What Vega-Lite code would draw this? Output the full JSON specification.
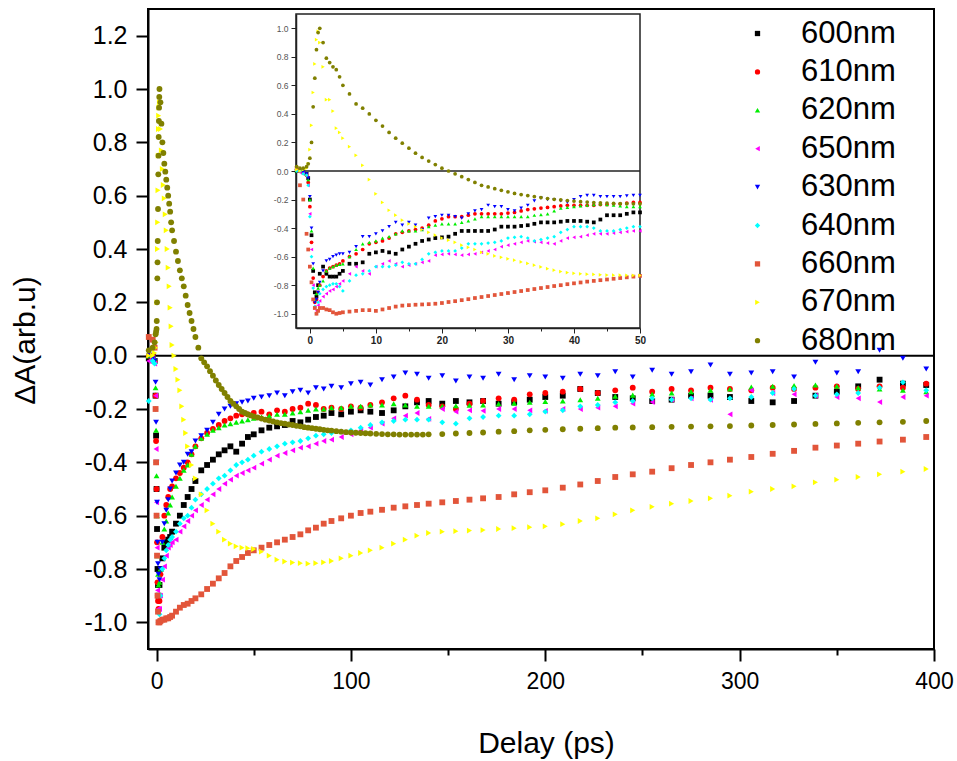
{
"$schema":"https://vega.github.io/schema/vega-lite/v6.json",
"width":786,"height":640,"autosize":"none",
"padding":{"left":148,"top":9,"right":23,"bottom":112},
"background":"white",
"config":{"view":{"stroke":"black","strokeWidth":2},"font":"Liberation Sans"},
"datasets":{
"main":[
{"s":"600nm","t":-4,"v":-0.01},{"s":"600nm","t":-2,"v":0},{"s":"600nm","t":-1,"v":-0.02},{"s":"600nm","t":-0.5,"v":-0.15},{"s":"600nm","t":-0.25,"v":-0.3},{"s":"600nm","t":0,"v":-0.5},{"s":"600nm","t":0.25,"v":-0.65},{"s":"600nm","t":0.5,"v":-0.8},{"s":"600nm","t":0.75,"v":-0.86},{"s":"600nm","t":1,"v":-0.9},{"s":"600nm","t":1.5,"v":-0.86},{"s":"600nm","t":2,"v":-0.8},{"s":"600nm","t":3,"v":-0.76},{"s":"600nm","t":4,"v":-0.72},{"s":"600nm","t":5,"v":-0.7},{"s":"600nm","t":6,"v":-0.69},{"s":"600nm","t":7,"v":-0.68},{"s":"600nm","t":8,"v":-0.66},{"s":"600nm","t":10,"v":-0.63},{"s":"600nm","t":12,"v":-0.6},{"s":"600nm","t":14,"v":-0.56},{"s":"600nm","t":16,"v":-0.53},{"s":"600nm","t":18,"v":-0.5},{"s":"600nm","t":20,"v":-0.47},{"s":"600nm","t":23,"v":-0.43},{"s":"600nm","t":26,"v":-0.41},{"s":"600nm","t":29,"v":-0.39},{"s":"600nm","t":32,"v":-0.37},{"s":"600nm","t":35,"v":-0.355},{"s":"600nm","t":38,"v":-0.34},{"s":"600nm","t":41,"v":-0.36},{"s":"600nm","t":44,"v":-0.33},{"s":"600nm","t":47,"v":-0.305},{"s":"600nm","t":50,"v":-0.295},{"s":"600nm","t":54,"v":-0.28},{"s":"600nm","t":58,"v":-0.27},{"s":"600nm","t":62,"v":-0.265},{"s":"600nm","t":66,"v":-0.26},{"s":"600nm","t":70,"v":-0.245},{"s":"600nm","t":74,"v":-0.25},{"s":"600nm","t":78,"v":-0.24},{"s":"600nm","t":82,"v":-0.23},{"s":"600nm","t":86,"v":-0.225},{"s":"600nm","t":90,"v":-0.215},{"s":"600nm","t":95,"v":-0.22},{"s":"600nm","t":100,"v":-0.21},{"s":"600nm","t":105,"v":-0.205},{"s":"600nm","t":110,"v":-0.21},{"s":"600nm","t":116,"v":-0.215},{"s":"600nm","t":122,"v":-0.205},{"s":"600nm","t":128,"v":-0.19},{"s":"600nm","t":134,"v":-0.175},{"s":"600nm","t":140,"v":-0.17},{"s":"600nm","t":147,"v":-0.18},{"s":"600nm","t":154,"v":-0.17},{"s":"600nm","t":161,"v":-0.175},{"s":"600nm","t":168,"v":-0.17},{"s":"600nm","t":176,"v":-0.18},{"s":"600nm","t":184,"v":-0.175},{"s":"600nm","t":192,"v":-0.165},{"s":"600nm","t":200,"v":-0.155},{"s":"600nm","t":209,"v":-0.15},{"s":"600nm","t":218,"v":-0.125},{"s":"600nm","t":227,"v":-0.14},{"s":"600nm","t":236,"v":-0.155},{"s":"600nm","t":245,"v":-0.16},{"s":"600nm","t":255,"v":-0.17},{"s":"600nm","t":265,"v":-0.165},{"s":"600nm","t":275,"v":-0.15},{"s":"600nm","t":285,"v":-0.15},{"s":"600nm","t":295,"v":-0.155},{"s":"600nm","t":306,"v":-0.17},{"s":"600nm","t":317,"v":-0.175},{"s":"600nm","t":328,"v":-0.17},{"s":"600nm","t":339,"v":-0.15},{"s":"600nm","t":350,"v":-0.135},{"s":"600nm","t":361,"v":-0.115},{"s":"600nm","t":372,"v":-0.09},{"s":"600nm","t":384,"v":-0.105},{"s":"600nm","t":396,"v":-0.11},
{"s":"610nm","t":-4,"v":0},{"s":"610nm","t":-2,"v":0},{"s":"610nm","t":-1,"v":-0.02},{"s":"610nm","t":-0.5,"v":-0.15},{"s":"610nm","t":-0.25,"v":-0.32},{"s":"610nm","t":0,"v":-0.5},{"s":"610nm","t":0.25,"v":-0.7},{"s":"610nm","t":0.5,"v":-0.85},{"s":"610nm","t":0.75,"v":-0.92},{"s":"610nm","t":1,"v":-0.95},{"s":"610nm","t":1.5,"v":-0.92},{"s":"610nm","t":2,"v":-0.82},{"s":"610nm","t":3,"v":-0.68},{"s":"610nm","t":4,"v":-0.6},{"s":"610nm","t":5,"v":-0.56},{"s":"610nm","t":6,"v":-0.53},{"s":"610nm","t":7,"v":-0.5},{"s":"610nm","t":8,"v":-0.49},{"s":"610nm","t":10,"v":-0.46},{"s":"610nm","t":12,"v":-0.44},{"s":"610nm","t":14,"v":-0.42},{"s":"610nm","t":16,"v":-0.4},{"s":"610nm","t":18,"v":-0.37},{"s":"610nm","t":20,"v":-0.34},{"s":"610nm","t":23,"v":-0.31},{"s":"610nm","t":26,"v":-0.29},{"s":"610nm","t":29,"v":-0.275},{"s":"610nm","t":32,"v":-0.26},{"s":"610nm","t":35,"v":-0.245},{"s":"610nm","t":38,"v":-0.235},{"s":"610nm","t":41,"v":-0.225},{"s":"610nm","t":44,"v":-0.22},{"s":"610nm","t":47,"v":-0.22},{"s":"610nm","t":50,"v":-0.215},{"s":"610nm","t":54,"v":-0.21},{"s":"610nm","t":58,"v":-0.22},{"s":"610nm","t":62,"v":-0.205},{"s":"610nm","t":66,"v":-0.21},{"s":"610nm","t":70,"v":-0.2},{"s":"610nm","t":74,"v":-0.195},{"s":"610nm","t":78,"v":-0.18},{"s":"610nm","t":82,"v":-0.185},{"s":"610nm","t":86,"v":-0.2},{"s":"610nm","t":90,"v":-0.195},{"s":"610nm","t":95,"v":-0.2},{"s":"610nm","t":100,"v":-0.19},{"s":"610nm","t":105,"v":-0.195},{"s":"610nm","t":110,"v":-0.185},{"s":"610nm","t":116,"v":-0.175},{"s":"610nm","t":122,"v":-0.16},{"s":"610nm","t":128,"v":-0.15},{"s":"610nm","t":134,"v":-0.165},{"s":"610nm","t":140,"v":-0.185},{"s":"610nm","t":147,"v":-0.19},{"s":"610nm","t":154,"v":-0.2},{"s":"610nm","t":161,"v":-0.18},{"s":"610nm","t":168,"v":-0.17},{"s":"610nm","t":176,"v":-0.16},{"s":"610nm","t":184,"v":-0.165},{"s":"610nm","t":192,"v":-0.145},{"s":"610nm","t":200,"v":-0.14},{"s":"610nm","t":209,"v":-0.135},{"s":"610nm","t":218,"v":-0.125},{"s":"610nm","t":227,"v":-0.14},{"s":"610nm","t":236,"v":-0.13},{"s":"610nm","t":245,"v":-0.12},{"s":"610nm","t":255,"v":-0.135},{"s":"610nm","t":265,"v":-0.125},{"s":"610nm","t":275,"v":-0.13},{"s":"610nm","t":285,"v":-0.12},{"s":"610nm","t":295,"v":-0.125},{"s":"610nm","t":306,"v":-0.13},{"s":"610nm","t":317,"v":-0.12},{"s":"610nm","t":328,"v":-0.125},{"s":"610nm","t":339,"v":-0.12},{"s":"610nm","t":350,"v":-0.115},{"s":"610nm","t":361,"v":-0.125},{"s":"610nm","t":372,"v":-0.115},{"s":"610nm","t":384,"v":-0.12},{"s":"610nm","t":396,"v":-0.105},
{"s":"620nm","t":-4,"v":0},{"s":"620nm","t":-2,"v":0},{"s":"620nm","t":-1,"v":-0.01},{"s":"620nm","t":-0.5,"v":-0.12},{"s":"620nm","t":-0.25,"v":-0.28},{"s":"620nm","t":0,"v":-0.45},{"s":"620nm","t":0.25,"v":-0.6},{"s":"620nm","t":0.5,"v":-0.75},{"s":"620nm","t":0.75,"v":-0.82},{"s":"620nm","t":1,"v":-0.86},{"s":"620nm","t":1.5,"v":-0.85},{"s":"620nm","t":2,"v":-0.8},{"s":"620nm","t":3,"v":-0.7},{"s":"620nm","t":4,"v":-0.65},{"s":"620nm","t":5,"v":-0.62},{"s":"620nm","t":6,"v":-0.59},{"s":"620nm","t":7,"v":-0.56},{"s":"620nm","t":8,"v":-0.53},{"s":"620nm","t":10,"v":-0.49},{"s":"620nm","t":12,"v":-0.46},{"s":"620nm","t":14,"v":-0.43},{"s":"620nm","t":16,"v":-0.41},{"s":"620nm","t":18,"v":-0.37},{"s":"620nm","t":20,"v":-0.34},{"s":"620nm","t":23,"v":-0.31},{"s":"620nm","t":26,"v":-0.295},{"s":"620nm","t":29,"v":-0.28},{"s":"620nm","t":32,"v":-0.27},{"s":"620nm","t":35,"v":-0.26},{"s":"620nm","t":38,"v":-0.255},{"s":"620nm","t":41,"v":-0.25},{"s":"620nm","t":44,"v":-0.245},{"s":"620nm","t":47,"v":-0.24},{"s":"620nm","t":50,"v":-0.235},{"s":"620nm","t":54,"v":-0.23},{"s":"620nm","t":58,"v":-0.225},{"s":"620nm","t":62,"v":-0.22},{"s":"620nm","t":66,"v":-0.22},{"s":"620nm","t":70,"v":-0.215},{"s":"620nm","t":74,"v":-0.21},{"s":"620nm","t":78,"v":-0.205},{"s":"620nm","t":82,"v":-0.2},{"s":"620nm","t":86,"v":-0.2},{"s":"620nm","t":90,"v":-0.195},{"s":"620nm","t":95,"v":-0.195},{"s":"620nm","t":100,"v":-0.19},{"s":"620nm","t":105,"v":-0.19},{"s":"620nm","t":110,"v":-0.185},{"s":"620nm","t":116,"v":-0.185},{"s":"620nm","t":122,"v":-0.18},{"s":"620nm","t":128,"v":-0.185},{"s":"620nm","t":134,"v":-0.19},{"s":"620nm","t":140,"v":-0.19},{"s":"620nm","t":147,"v":-0.19},{"s":"620nm","t":154,"v":-0.188},{"s":"620nm","t":161,"v":-0.186},{"s":"620nm","t":168,"v":-0.185},{"s":"620nm","t":176,"v":-0.18},{"s":"620nm","t":184,"v":-0.178},{"s":"620nm","t":192,"v":-0.175},{"s":"620nm","t":200,"v":-0.172},{"s":"620nm","t":209,"v":-0.17},{"s":"620nm","t":218,"v":-0.165},{"s":"620nm","t":227,"v":-0.16},{"s":"620nm","t":236,"v":-0.152},{"s":"620nm","t":245,"v":-0.148},{"s":"620nm","t":255,"v":-0.145},{"s":"620nm","t":265,"v":-0.14},{"s":"620nm","t":275,"v":-0.135},{"s":"620nm","t":285,"v":-0.13},{"s":"620nm","t":295,"v":-0.125},{"s":"620nm","t":306,"v":-0.118},{"s":"620nm","t":317,"v":-0.115},{"s":"620nm","t":328,"v":-0.112},{"s":"620nm","t":339,"v":-0.11},{"s":"620nm","t":350,"v":-0.115},{"s":"620nm","t":361,"v":-0.12},{"s":"620nm","t":372,"v":-0.125},{"s":"620nm","t":384,"v":-0.13},{"s":"620nm","t":396,"v":-0.135},
{"s":"650nm","t":-4,"v":-0.02},{"s":"650nm","t":-2,"v":-0.01},{"s":"650nm","t":-1,"v":-0.03},{"s":"650nm","t":-0.5,"v":-0.15},{"s":"650nm","t":-0.25,"v":-0.35},{"s":"650nm","t":0,"v":-0.55},{"s":"650nm","t":0.25,"v":-0.72},{"s":"650nm","t":0.5,"v":-0.88},{"s":"650nm","t":0.75,"v":-0.95},{"s":"650nm","t":1,"v":-1.0},{"s":"650nm","t":1.5,"v":-0.95},{"s":"650nm","t":2,"v":-0.9},{"s":"650nm","t":3,"v":-0.84},{"s":"650nm","t":4,"v":-0.79},{"s":"650nm","t":5,"v":-0.75},{"s":"650nm","t":6,"v":-0.72},{"s":"650nm","t":7,"v":-0.71},{"s":"650nm","t":8,"v":-0.7},{"s":"650nm","t":10,"v":-0.69},{"s":"650nm","t":12,"v":-0.66},{"s":"650nm","t":14,"v":-0.64},{"s":"650nm","t":16,"v":-0.62},{"s":"650nm","t":18,"v":-0.6},{"s":"650nm","t":20,"v":-0.58},{"s":"650nm","t":23,"v":-0.56},{"s":"650nm","t":26,"v":-0.54},{"s":"650nm","t":29,"v":-0.52},{"s":"650nm","t":32,"v":-0.5},{"s":"650nm","t":35,"v":-0.48},{"s":"650nm","t":38,"v":-0.465},{"s":"650nm","t":41,"v":-0.45},{"s":"650nm","t":44,"v":-0.44},{"s":"650nm","t":47,"v":-0.43},{"s":"650nm","t":50,"v":-0.42},{"s":"650nm","t":54,"v":-0.405},{"s":"650nm","t":58,"v":-0.39},{"s":"650nm","t":62,"v":-0.375},{"s":"650nm","t":66,"v":-0.365},{"s":"650nm","t":70,"v":-0.355},{"s":"650nm","t":74,"v":-0.345},{"s":"650nm","t":78,"v":-0.34},{"s":"650nm","t":82,"v":-0.33},{"s":"650nm","t":86,"v":-0.32},{"s":"650nm","t":90,"v":-0.315},{"s":"650nm","t":95,"v":-0.305},{"s":"650nm","t":100,"v":-0.295},{"s":"650nm","t":105,"v":-0.28},{"s":"650nm","t":110,"v":-0.27},{"s":"650nm","t":116,"v":-0.255},{"s":"650nm","t":122,"v":-0.235},{"s":"650nm","t":128,"v":-0.225},{"s":"650nm","t":134,"v":-0.215},{"s":"650nm","t":140,"v":-0.237},{"s":"650nm","t":147,"v":-0.2},{"s":"650nm","t":154,"v":-0.21},{"s":"650nm","t":161,"v":-0.205},{"s":"650nm","t":168,"v":-0.207},{"s":"650nm","t":176,"v":-0.2},{"s":"650nm","t":184,"v":-0.2},{"s":"650nm","t":192,"v":-0.205},{"s":"650nm","t":200,"v":-0.207},{"s":"650nm","t":209,"v":-0.2},{"s":"650nm","t":218,"v":-0.2},{"s":"650nm","t":227,"v":-0.195},{"s":"650nm","t":236,"v":-0.19},{"s":"650nm","t":245,"v":-0.18},{"s":"650nm","t":255,"v":-0.174},{"s":"650nm","t":265,"v":-0.165},{"s":"650nm","t":275,"v":-0.16},{"s":"650nm","t":285,"v":-0.166},{"s":"650nm","t":295,"v":-0.22},{"s":"650nm","t":306,"v":-0.13},{"s":"650nm","t":317,"v":-0.14},{"s":"650nm","t":328,"v":-0.145},{"s":"650nm","t":339,"v":-0.15},{"s":"650nm","t":350,"v":-0.155},{"s":"650nm","t":361,"v":-0.16},{"s":"650nm","t":372,"v":-0.174},{"s":"650nm","t":384,"v":-0.155},{"s":"650nm","t":396,"v":-0.15},
{"s":"630nm","t":-4,"v":0},{"s":"630nm","t":-2,"v":-0.01},{"s":"630nm","t":-1,"v":-0.02},{"s":"630nm","t":-0.5,"v":-0.1},{"s":"630nm","t":-0.25,"v":-0.25},{"s":"630nm","t":0,"v":-0.4},{"s":"630nm","t":0.25,"v":-0.55},{"s":"630nm","t":0.5,"v":-0.7},{"s":"630nm","t":0.75,"v":-0.78},{"s":"630nm","t":1,"v":-0.82},{"s":"630nm","t":1.5,"v":-0.84},{"s":"630nm","t":2,"v":-0.8},{"s":"630nm","t":3,"v":-0.7},{"s":"630nm","t":4,"v":-0.63},{"s":"630nm","t":5,"v":-0.58},{"s":"630nm","t":6,"v":-0.54},{"s":"630nm","t":7,"v":-0.5},{"s":"630nm","t":8,"v":-0.47},{"s":"630nm","t":10,"v":-0.44},{"s":"630nm","t":12,"v":-0.41},{"s":"630nm","t":14,"v":-0.4},{"s":"630nm","t":16,"v":-0.37},{"s":"630nm","t":18,"v":-0.36},{"s":"630nm","t":20,"v":-0.32},{"s":"630nm","t":23,"v":-0.3},{"s":"630nm","t":26,"v":-0.28},{"s":"630nm","t":29,"v":-0.25},{"s":"630nm","t":32,"v":-0.22},{"s":"630nm","t":35,"v":-0.2},{"s":"630nm","t":38,"v":-0.19},{"s":"630nm","t":41,"v":-0.18},{"s":"630nm","t":44,"v":-0.175},{"s":"630nm","t":47,"v":-0.17},{"s":"630nm","t":50,"v":-0.16},{"s":"630nm","t":54,"v":-0.155},{"s":"630nm","t":58,"v":-0.15},{"s":"630nm","t":62,"v":-0.14},{"s":"630nm","t":66,"v":-0.15},{"s":"630nm","t":70,"v":-0.135},{"s":"630nm","t":74,"v":-0.13},{"s":"630nm","t":78,"v":-0.14},{"s":"630nm","t":82,"v":-0.12},{"s":"630nm","t":86,"v":-0.125},{"s":"630nm","t":90,"v":-0.115},{"s":"630nm","t":95,"v":-0.12},{"s":"630nm","t":100,"v":-0.105},{"s":"630nm","t":105,"v":-0.1},{"s":"630nm","t":110,"v":-0.11},{"s":"630nm","t":116,"v":-0.09},{"s":"630nm","t":122,"v":-0.08},{"s":"630nm","t":128,"v":-0.065},{"s":"630nm","t":134,"v":-0.07},{"s":"630nm","t":140,"v":-0.085},{"s":"630nm","t":147,"v":-0.075},{"s":"630nm","t":154,"v":-0.095},{"s":"630nm","t":161,"v":-0.08},{"s":"630nm","t":168,"v":-0.085},{"s":"630nm","t":176,"v":-0.07},{"s":"630nm","t":184,"v":-0.09},{"s":"630nm","t":192,"v":-0.075},{"s":"630nm","t":200,"v":-0.08},{"s":"630nm","t":209,"v":-0.085},{"s":"630nm","t":218,"v":-0.07},{"s":"630nm","t":227,"v":-0.075},{"s":"630nm","t":236,"v":-0.06},{"s":"630nm","t":245,"v":-0.08},{"s":"630nm","t":255,"v":-0.055},{"s":"630nm","t":265,"v":-0.07},{"s":"630nm","t":275,"v":-0.06},{"s":"630nm","t":285,"v":-0.035},{"s":"630nm","t":295,"v":-0.07},{"s":"630nm","t":306,"v":-0.065},{"s":"630nm","t":317,"v":-0.06},{"s":"630nm","t":328,"v":-0.08},{"s":"630nm","t":339,"v":-0.025},{"s":"630nm","t":350,"v":-0.065},{"s":"630nm","t":361,"v":-0.06},{"s":"630nm","t":372,"v":0.02},{"s":"630nm","t":384,"v":-0.01},{"s":"630nm","t":396,"v":-0.05},
{"s":"640nm","t":-4,"v":-0.17},{"s":"640nm","t":-2,"v":-0.02},{"s":"640nm","t":-1,"v":-0.03},{"s":"640nm","t":-0.5,"v":-0.2},{"s":"640nm","t":-0.25,"v":-0.4},{"s":"640nm","t":0,"v":-0.6},{"s":"640nm","t":0.25,"v":-0.75},{"s":"640nm","t":0.5,"v":-0.9},{"s":"640nm","t":0.75,"v":-0.96},{"s":"640nm","t":1,"v":-1.0},{"s":"640nm","t":1.5,"v":-0.97},{"s":"640nm","t":2,"v":-0.9},{"s":"640nm","t":3,"v":-0.8},{"s":"640nm","t":4,"v":-0.76},{"s":"640nm","t":5,"v":-0.73},{"s":"640nm","t":6,"v":-0.71},{"s":"640nm","t":7,"v":-0.69},{"s":"640nm","t":8,"v":-0.68},{"s":"640nm","t":10,"v":-0.66},{"s":"640nm","t":12,"v":-0.63},{"s":"640nm","t":14,"v":-0.61},{"s":"640nm","t":16,"v":-0.6},{"s":"640nm","t":18,"v":-0.57},{"s":"640nm","t":20,"v":-0.54},{"s":"640nm","t":23,"v":-0.52},{"s":"640nm","t":26,"v":-0.5},{"s":"640nm","t":29,"v":-0.48},{"s":"640nm","t":32,"v":-0.46},{"s":"640nm","t":35,"v":-0.45},{"s":"640nm","t":38,"v":-0.43},{"s":"640nm","t":41,"v":-0.41},{"s":"640nm","t":44,"v":-0.4},{"s":"640nm","t":47,"v":-0.39},{"s":"640nm","t":50,"v":-0.375},{"s":"640nm","t":54,"v":-0.36},{"s":"640nm","t":58,"v":-0.35},{"s":"640nm","t":62,"v":-0.34},{"s":"640nm","t":66,"v":-0.33},{"s":"640nm","t":70,"v":-0.325},{"s":"640nm","t":74,"v":-0.32},{"s":"640nm","t":78,"v":-0.31},{"s":"640nm","t":82,"v":-0.3},{"s":"640nm","t":86,"v":-0.295},{"s":"640nm","t":90,"v":-0.29},{"s":"640nm","t":95,"v":-0.285},{"s":"640nm","t":100,"v":-0.28},{"s":"640nm","t":105,"v":-0.27},{"s":"640nm","t":110,"v":-0.26},{"s":"640nm","t":116,"v":-0.25},{"s":"640nm","t":122,"v":-0.245},{"s":"640nm","t":128,"v":-0.24},{"s":"640nm","t":134,"v":-0.24},{"s":"640nm","t":140,"v":-0.24},{"s":"640nm","t":147,"v":-0.25},{"s":"640nm","t":154,"v":-0.255},{"s":"640nm","t":161,"v":-0.235},{"s":"640nm","t":168,"v":-0.23},{"s":"640nm","t":176,"v":-0.225},{"s":"640nm","t":184,"v":-0.225},{"s":"640nm","t":192,"v":-0.22},{"s":"640nm","t":200,"v":-0.21},{"s":"640nm","t":209,"v":-0.205},{"s":"640nm","t":218,"v":-0.19},{"s":"640nm","t":227,"v":-0.185},{"s":"640nm","t":236,"v":-0.175},{"s":"640nm","t":245,"v":-0.17},{"s":"640nm","t":255,"v":-0.16},{"s":"640nm","t":265,"v":-0.165},{"s":"640nm","t":275,"v":-0.16},{"s":"640nm","t":285,"v":-0.165},{"s":"640nm","t":295,"v":-0.16},{"s":"640nm","t":306,"v":-0.155},{"s":"640nm","t":317,"v":-0.14},{"s":"640nm","t":328,"v":-0.125},{"s":"640nm","t":339,"v":-0.15},{"s":"640nm","t":350,"v":-0.145},{"s":"640nm","t":361,"v":-0.14},{"s":"640nm","t":372,"v":-0.12},{"s":"640nm","t":384,"v":-0.1},{"s":"640nm","t":396,"v":-0.13},
{"s":"660nm","t":-4,"v":0.07},{"s":"660nm","t":-2,"v":0.06},{"s":"660nm","t":-1,"v":0.03},{"s":"660nm","t":-0.5,"v":-0.2},{"s":"660nm","t":-0.25,"v":-0.4},{"s":"660nm","t":0,"v":-0.6},{"s":"660nm","t":0.25,"v":-0.75},{"s":"660nm","t":0.5,"v":-0.9},{"s":"660nm","t":0.75,"v":-0.96},{"s":"660nm","t":1,"v":-1.0},{"s":"660nm","t":1.5,"v":-1.0},{"s":"660nm","t":2,"v":-0.995},{"s":"660nm","t":3,"v":-0.99},{"s":"660nm","t":4,"v":-0.99},{"s":"660nm","t":5,"v":-0.985},{"s":"660nm","t":6,"v":-0.985},{"s":"660nm","t":7,"v":-0.98},{"s":"660nm","t":8,"v":-0.975},{"s":"660nm","t":10,"v":-0.96},{"s":"660nm","t":12,"v":-0.945},{"s":"660nm","t":14,"v":-0.935},{"s":"660nm","t":16,"v":-0.93},{"s":"660nm","t":18,"v":-0.92},{"s":"660nm","t":20,"v":-0.91},{"s":"660nm","t":23,"v":-0.895},{"s":"660nm","t":26,"v":-0.875},{"s":"660nm","t":29,"v":-0.855},{"s":"660nm","t":32,"v":-0.835},{"s":"660nm","t":35,"v":-0.815},{"s":"660nm","t":38,"v":-0.79},{"s":"660nm","t":41,"v":-0.77},{"s":"660nm","t":44,"v":-0.755},{"s":"660nm","t":47,"v":-0.74},{"s":"660nm","t":50,"v":-0.73},{"s":"660nm","t":54,"v":-0.72},{"s":"660nm","t":58,"v":-0.71},{"s":"660nm","t":62,"v":-0.7},{"s":"660nm","t":66,"v":-0.69},{"s":"660nm","t":70,"v":-0.68},{"s":"660nm","t":74,"v":-0.67},{"s":"660nm","t":78,"v":-0.655},{"s":"660nm","t":82,"v":-0.645},{"s":"660nm","t":86,"v":-0.63},{"s":"660nm","t":90,"v":-0.62},{"s":"660nm","t":95,"v":-0.61},{"s":"660nm","t":100,"v":-0.6},{"s":"660nm","t":105,"v":-0.59},{"s":"660nm","t":110,"v":-0.585},{"s":"660nm","t":116,"v":-0.578},{"s":"660nm","t":122,"v":-0.57},{"s":"660nm","t":128,"v":-0.565},{"s":"660nm","t":134,"v":-0.56},{"s":"660nm","t":140,"v":-0.555},{"s":"660nm","t":147,"v":-0.55},{"s":"660nm","t":154,"v":-0.545},{"s":"660nm","t":161,"v":-0.54},{"s":"660nm","t":168,"v":-0.535},{"s":"660nm","t":176,"v":-0.53},{"s":"660nm","t":184,"v":-0.52},{"s":"660nm","t":192,"v":-0.512},{"s":"660nm","t":200,"v":-0.505},{"s":"660nm","t":209,"v":-0.495},{"s":"660nm","t":218,"v":-0.483},{"s":"660nm","t":227,"v":-0.47},{"s":"660nm","t":236,"v":-0.455},{"s":"660nm","t":245,"v":-0.445},{"s":"660nm","t":255,"v":-0.435},{"s":"660nm","t":265,"v":-0.422},{"s":"660nm","t":275,"v":-0.41},{"s":"660nm","t":285,"v":-0.4},{"s":"660nm","t":295,"v":-0.39},{"s":"660nm","t":306,"v":-0.38},{"s":"660nm","t":317,"v":-0.368},{"s":"660nm","t":328,"v":-0.357},{"s":"660nm","t":339,"v":-0.345},{"s":"660nm","t":350,"v":-0.337},{"s":"660nm","t":361,"v":-0.33},{"s":"660nm","t":372,"v":-0.322},{"s":"660nm","t":384,"v":-0.315},{"s":"660nm","t":396,"v":-0.305},
{"s":"670nm","t":-4,"v":0},{"s":"670nm","t":-2,"v":0},{"s":"670nm","t":-1,"v":0.01},{"s":"670nm","t":-0.5,"v":0.03},{"s":"670nm","t":-0.25,"v":0.05},{"s":"670nm","t":0,"v":0.08},{"s":"670nm","t":0.25,"v":0.2},{"s":"670nm","t":0.5,"v":0.4},{"s":"670nm","t":0.6,"v":0.5},{"s":"670nm","t":0.75,"v":0.62},{"s":"670nm","t":0.9,"v":0.75},{"s":"670nm","t":1,"v":0.85},{"s":"670nm","t":1.1,"v":0.9},{"s":"670nm","t":1.25,"v":0.93},{"s":"670nm","t":1.5,"v":0.95},{"s":"670nm","t":2,"v":0.85},{"s":"670nm","t":2.5,"v":0.77},{"s":"670nm","t":3,"v":0.7},{"s":"670nm","t":3.5,"v":0.64},{"s":"670nm","t":4,"v":0.59},{"s":"670nm","t":4.5,"v":0.53},{"s":"670nm","t":5,"v":0.47},{"s":"670nm","t":5.5,"v":0.4},{"s":"670nm","t":6,"v":0.33},{"s":"670nm","t":6.5,"v":0.26},{"s":"670nm","t":7,"v":0.18},{"s":"670nm","t":7.5,"v":0.11},{"s":"670nm","t":8,"v":0.04},{"s":"670nm","t":9,"v":0},{"s":"670nm","t":10,"v":-0.05},{"s":"670nm","t":11,"v":-0.09},{"s":"670nm","t":12,"v":-0.13},{"s":"670nm","t":13,"v":-0.19},{"s":"670nm","t":14,"v":-0.24},{"s":"670nm","t":15,"v":-0.29},{"s":"670nm","t":16,"v":-0.34},{"s":"670nm","t":18,"v":-0.41},{"s":"670nm","t":20,"v":-0.46},{"s":"670nm","t":23,"v":-0.52},{"s":"670nm","t":26,"v":-0.58},{"s":"670nm","t":29,"v":-0.63},{"s":"670nm","t":32,"v":-0.66},{"s":"670nm","t":35,"v":-0.69},{"s":"670nm","t":38,"v":-0.705},{"s":"670nm","t":41,"v":-0.715},{"s":"670nm","t":44,"v":-0.72},{"s":"670nm","t":47,"v":-0.722},{"s":"670nm","t":50,"v":-0.725},{"s":"670nm","t":54,"v":-0.735},{"s":"670nm","t":58,"v":-0.75},{"s":"670nm","t":62,"v":-0.765},{"s":"670nm","t":66,"v":-0.772},{"s":"670nm","t":70,"v":-0.776},{"s":"670nm","t":74,"v":-0.778},{"s":"670nm","t":78,"v":-0.78},{"s":"670nm","t":82,"v":-0.778},{"s":"670nm","t":86,"v":-0.775},{"s":"670nm","t":90,"v":-0.77},{"s":"670nm","t":95,"v":-0.76},{"s":"670nm","t":100,"v":-0.75},{"s":"670nm","t":105,"v":-0.74},{"s":"670nm","t":110,"v":-0.73},{"s":"670nm","t":116,"v":-0.72},{"s":"670nm","t":122,"v":-0.705},{"s":"670nm","t":128,"v":-0.69},{"s":"670nm","t":134,"v":-0.675},{"s":"670nm","t":140,"v":-0.665},{"s":"670nm","t":147,"v":-0.66},{"s":"670nm","t":154,"v":-0.658},{"s":"670nm","t":161,"v":-0.656},{"s":"670nm","t":168,"v":-0.654},{"s":"670nm","t":176,"v":-0.65},{"s":"670nm","t":184,"v":-0.647},{"s":"670nm","t":192,"v":-0.643},{"s":"670nm","t":200,"v":-0.64},{"s":"670nm","t":209,"v":-0.632},{"s":"670nm","t":218,"v":-0.62},{"s":"670nm","t":227,"v":-0.61},{"s":"670nm","t":236,"v":-0.595},{"s":"670nm","t":245,"v":-0.58},{"s":"670nm","t":255,"v":-0.567},{"s":"670nm","t":265,"v":-0.555},{"s":"670nm","t":275,"v":-0.545},{"s":"670nm","t":285,"v":-0.535},{"s":"670nm","t":295,"v":-0.525},{"s":"670nm","t":306,"v":-0.51},{"s":"670nm","t":317,"v":-0.5},{"s":"670nm","t":328,"v":-0.49},{"s":"670nm","t":339,"v":-0.475},{"s":"670nm","t":350,"v":-0.465},{"s":"670nm","t":361,"v":-0.455},{"s":"670nm","t":372,"v":-0.445},{"s":"670nm","t":384,"v":-0.435},{"s":"670nm","t":396,"v":-0.425},
{"s":"680nm","t":-4,"v":0.02},{"s":"680nm","t":-2,"v":0.03},{"s":"680nm","t":-1,"v":0.05},{"s":"680nm","t":-0.5,"v":0.08},{"s":"680nm","t":-0.25,"v":0.09},{"s":"680nm","t":0,"v":0.1},{"s":"680nm","t":0.1,"v":0.13},{"s":"680nm","t":0.25,"v":0.2},{"s":"680nm","t":0.4,"v":0.29},{"s":"680nm","t":0.5,"v":0.35},{"s":"680nm","t":0.6,"v":0.43},{"s":"680nm","t":0.75,"v":0.55},{"s":"680nm","t":0.9,"v":0.68},{"s":"680nm","t":1,"v":0.75},{"s":"680nm","t":1.1,"v":0.82},{"s":"680nm","t":1.2,"v":0.88},{"s":"680nm","t":1.3,"v":0.93},{"s":"680nm","t":1.4,"v":0.97},{"s":"680nm","t":1.5,"v":1.0},{"s":"680nm","t":2,"v":0.95},{"s":"680nm","t":2.5,"v":0.87},{"s":"680nm","t":3,"v":0.8},{"s":"680nm","t":3.5,"v":0.76},{"s":"680nm","t":4,"v":0.72},{"s":"680nm","t":4.5,"v":0.69},{"s":"680nm","t":5,"v":0.66},{"s":"680nm","t":5.5,"v":0.63},{"s":"680nm","t":6,"v":0.6},{"s":"680nm","t":6.5,"v":0.57},{"s":"680nm","t":7,"v":0.54},{"s":"680nm","t":7.5,"v":0.5},{"s":"680nm","t":8,"v":0.47},{"s":"680nm","t":9,"v":0.43},{"s":"680nm","t":10,"v":0.39},{"s":"680nm","t":11,"v":0.355},{"s":"680nm","t":12,"v":0.32},{"s":"680nm","t":13,"v":0.29},{"s":"680nm","t":14,"v":0.26},{"s":"680nm","t":15,"v":0.225},{"s":"680nm","t":16,"v":0.19},{"s":"680nm","t":17,"v":0.16},{"s":"680nm","t":18,"v":0.13},{"s":"680nm","t":19,"v":0.1},{"s":"680nm","t":20,"v":0.07},{"s":"680nm","t":21.5,"v":0.03},{"s":"680nm","t":23,"v":-0.01},{"s":"680nm","t":24.5,"v":-0.025},{"s":"680nm","t":26,"v":-0.04},{"s":"680nm","t":27.5,"v":-0.058},{"s":"680nm","t":29,"v":-0.075},{"s":"680nm","t":30.5,"v":-0.093},{"s":"680nm","t":32,"v":-0.11},{"s":"680nm","t":33.5,"v":-0.125},{"s":"680nm","t":35,"v":-0.14},{"s":"680nm","t":36.5,"v":-0.155},{"s":"680nm","t":38,"v":-0.17},{"s":"680nm","t":39.5,"v":-0.18},{"s":"680nm","t":41,"v":-0.19},{"s":"680nm","t":42.5,"v":-0.2},{"s":"680nm","t":44,"v":-0.21},{"s":"680nm","t":45.5,"v":-0.215},{"s":"680nm","t":47,"v":-0.22},{"s":"680nm","t":48.5,"v":-0.224},{"s":"680nm","t":50,"v":-0.228},{"s":"680nm","t":52,"v":-0.232},{"s":"680nm","t":54,"v":-0.236},{"s":"680nm","t":56,"v":-0.24},{"s":"680nm","t":58,"v":-0.243},{"s":"680nm","t":60,"v":-0.247},{"s":"680nm","t":62,"v":-0.25},{"s":"680nm","t":64,"v":-0.253},{"s":"680nm","t":66,"v":-0.255},{"s":"680nm","t":68,"v":-0.258},{"s":"680nm","t":70,"v":-0.26},{"s":"680nm","t":72,"v":-0.263},{"s":"680nm","t":74,"v":-0.265},{"s":"680nm","t":76,"v":-0.268},{"s":"680nm","t":78,"v":-0.27},{"s":"680nm","t":80,"v":-0.272},{"s":"680nm","t":82,"v":-0.274},{"s":"680nm","t":84,"v":-0.276},{"s":"680nm","t":86,"v":-0.278},{"s":"680nm","t":88,"v":-0.28},{"s":"680nm","t":90,"v":-0.281},{"s":"680nm","t":92.5,"v":-0.283},{"s":"680nm","t":95,"v":-0.285},{"s":"680nm","t":97.5,"v":-0.287},{"s":"680nm","t":100,"v":-0.288},{"s":"680nm","t":102.5,"v":-0.289},{"s":"680nm","t":105,"v":-0.29},{"s":"680nm","t":107.5,"v":-0.291},{"s":"680nm","t":110,"v":-0.292},{"s":"680nm","t":113,"v":-0.293},{"s":"680nm","t":116,"v":-0.294},{"s":"680nm","t":119,"v":-0.295},{"s":"680nm","t":122,"v":-0.295},{"s":"680nm","t":125,"v":-0.296},{"s":"680nm","t":128,"v":-0.296},{"s":"680nm","t":131,"v":-0.296},{"s":"680nm","t":134,"v":-0.296},{"s":"680nm","t":137,"v":-0.296},{"s":"680nm","t":140,"v":-0.295},{"s":"680nm","t":147,"v":-0.294},{"s":"680nm","t":154,"v":-0.292},{"s":"680nm","t":161,"v":-0.29},{"s":"680nm","t":168,"v":-0.288},{"s":"680nm","t":176,"v":-0.285},{"s":"680nm","t":184,"v":-0.283},{"s":"680nm","t":192,"v":-0.28},{"s":"680nm","t":200,"v":-0.278},{"s":"680nm","t":209,"v":-0.276},{"s":"680nm","t":218,"v":-0.274},{"s":"680nm","t":227,"v":-0.272},{"s":"680nm","t":236,"v":-0.27},{"s":"680nm","t":245,"v":-0.269},{"s":"680nm","t":255,"v":-0.268},{"s":"680nm","t":265,"v":-0.267},{"s":"680nm","t":275,"v":-0.266},{"s":"680nm","t":285,"v":-0.265},{"s":"680nm","t":295,"v":-0.264},{"s":"680nm","t":306,"v":-0.262},{"s":"680nm","t":317,"v":-0.26},{"s":"680nm","t":328,"v":-0.258},{"s":"680nm","t":339,"v":-0.256},{"s":"680nm","t":350,"v":-0.254},{"s":"680nm","t":361,"v":-0.252},{"s":"680nm","t":372,"v":-0.25},{"s":"680nm","t":384,"v":-0.248},{"s":"680nm","t":396,"v":-0.245}
],
"inset":[
{"s":"600nm","t":-2,"v":0},{"s":"600nm","t":-1.5,"v":0},{"s":"600nm","t":-1,"v":-0.01},{"s":"600nm","t":-0.5,"v":-0.02},{"s":"600nm","t":-0.25,"v":-0.05},{"s":"600nm","t":0,"v":-0.2},{"s":"600nm","t":0.25,"v":-0.45},{"s":"600nm","t":0.5,"v":-0.7},{"s":"600nm","t":0.75,"v":-0.85},{"s":"600nm","t":1,"v":-0.88},{"s":"600nm","t":1.25,"v":-0.8},{"s":"600nm","t":1.5,"v":-0.72},{"s":"600nm","t":2,"v":-0.67},{"s":"600nm","t":2.5,"v":-0.72},{"s":"600nm","t":3,"v":-0.74},{"s":"600nm","t":3.5,"v":-0.74},{"s":"600nm","t":4,"v":-0.74},{"s":"600nm","t":4.5,"v":-0.72},{"s":"600nm","t":5,"v":-0.7},{"s":"600nm","t":6,"v":-0.65},{"s":"600nm","t":7,"v":-0.65},{"s":"600nm","t":8,"v":-0.64},{"s":"600nm","t":9,"v":-0.58},{"s":"600nm","t":10,"v":-0.57},{"s":"600nm","t":11,"v":-0.56},{"s":"600nm","t":12,"v":-0.57},{"s":"600nm","t":13,"v":-0.58},{"s":"600nm","t":14,"v":-0.55},{"s":"600nm","t":15,"v":-0.53},{"s":"600nm","t":16,"v":-0.51},{"s":"600nm","t":17,"v":-0.49},{"s":"600nm","t":18,"v":-0.48},{"s":"600nm","t":19,"v":-0.47},{"s":"600nm","t":20,"v":-0.465},{"s":"600nm","t":21,"v":-0.46},{"s":"600nm","t":22,"v":-0.44},{"s":"600nm","t":23,"v":-0.42},{"s":"600nm","t":24,"v":-0.42},{"s":"600nm","t":25,"v":-0.42},{"s":"600nm","t":26,"v":-0.42},{"s":"600nm","t":27,"v":-0.42},{"s":"600nm","t":28,"v":-0.41},{"s":"600nm","t":29,"v":-0.39},{"s":"600nm","t":30,"v":-0.39},{"s":"600nm","t":31,"v":-0.39},{"s":"600nm","t":32,"v":-0.385},{"s":"600nm","t":33,"v":-0.38},{"s":"600nm","t":34,"v":-0.37},{"s":"600nm","t":35,"v":-0.36},{"s":"600nm","t":36,"v":-0.36},{"s":"600nm","t":37,"v":-0.36},{"s":"600nm","t":38,"v":-0.355},{"s":"600nm","t":39,"v":-0.35},{"s":"600nm","t":40,"v":-0.35},{"s":"600nm","t":41,"v":-0.35},{"s":"600nm","t":42,"v":-0.355},{"s":"600nm","t":43,"v":-0.36},{"s":"600nm","t":44,"v":-0.34},{"s":"600nm","t":45,"v":-0.31},{"s":"600nm","t":46,"v":-0.31},{"s":"600nm","t":47,"v":-0.31},{"s":"600nm","t":48,"v":-0.3},{"s":"600nm","t":49,"v":-0.29},{"s":"600nm","t":50,"v":-0.29},
{"s":"610nm","t":-2,"v":0.01},{"s":"610nm","t":-1.5,"v":0},{"s":"610nm","t":-1,"v":-0.01},{"s":"610nm","t":-0.5,"v":-0.03},{"s":"610nm","t":-0.25,"v":-0.08},{"s":"610nm","t":0,"v":-0.25},{"s":"610nm","t":0.25,"v":-0.5},{"s":"610nm","t":0.5,"v":-0.75},{"s":"610nm","t":0.75,"v":-0.92},{"s":"610nm","t":1,"v":-0.9},{"s":"610nm","t":1.25,"v":-0.85},{"s":"610nm","t":1.5,"v":-0.8},{"s":"610nm","t":2,"v":-0.74},{"s":"610nm","t":2.5,"v":-0.7},{"s":"610nm","t":3,"v":-0.68},{"s":"610nm","t":3.5,"v":-0.67},{"s":"610nm","t":4,"v":-0.66},{"s":"610nm","t":4.5,"v":-0.65},{"s":"610nm","t":5,"v":-0.63},{"s":"610nm","t":6,"v":-0.6},{"s":"610nm","t":7,"v":-0.58},{"s":"610nm","t":8,"v":-0.55},{"s":"610nm","t":9,"v":-0.51},{"s":"610nm","t":10,"v":-0.5},{"s":"610nm","t":11,"v":-0.49},{"s":"610nm","t":12,"v":-0.47},{"s":"610nm","t":13,"v":-0.44},{"s":"610nm","t":14,"v":-0.43},{"s":"610nm","t":15,"v":-0.42},{"s":"610nm","t":16,"v":-0.41},{"s":"610nm","t":17,"v":-0.4},{"s":"610nm","t":18,"v":-0.38},{"s":"610nm","t":19,"v":-0.35},{"s":"610nm","t":20,"v":-0.335},{"s":"610nm","t":21,"v":-0.32},{"s":"610nm","t":22,"v":-0.32},{"s":"610nm","t":23,"v":-0.32},{"s":"610nm","t":24,"v":-0.31},{"s":"610nm","t":25,"v":-0.3},{"s":"610nm","t":26,"v":-0.3},{"s":"610nm","t":27,"v":-0.3},{"s":"610nm","t":28,"v":-0.3},{"s":"610nm","t":29,"v":-0.3},{"s":"610nm","t":30,"v":-0.295},{"s":"610nm","t":31,"v":-0.29},{"s":"610nm","t":32,"v":-0.28},{"s":"610nm","t":33,"v":-0.27},{"s":"610nm","t":34,"v":-0.265},{"s":"610nm","t":35,"v":-0.26},{"s":"610nm","t":36,"v":-0.255},{"s":"610nm","t":37,"v":-0.25},{"s":"610nm","t":38,"v":-0.245},{"s":"610nm","t":39,"v":-0.24},{"s":"610nm","t":40,"v":-0.24},{"s":"610nm","t":41,"v":-0.24},{"s":"610nm","t":42,"v":-0.24},{"s":"610nm","t":43,"v":-0.24},{"s":"610nm","t":44,"v":-0.235},{"s":"610nm","t":45,"v":-0.235},{"s":"610nm","t":46,"v":-0.23},{"s":"610nm","t":47,"v":-0.23},{"s":"610nm","t":48,"v":-0.225},{"s":"610nm","t":49,"v":-0.22},{"s":"610nm","t":50,"v":-0.22},
{"s":"620nm","t":-2,"v":0},{"s":"620nm","t":-1.5,"v":0.01},{"s":"620nm","t":-1,"v":0},{"s":"620nm","t":-0.5,"v":-0.02},{"s":"620nm","t":-0.25,"v":-0.06},{"s":"620nm","t":0,"v":-0.2},{"s":"620nm","t":0.25,"v":-0.42},{"s":"620nm","t":0.5,"v":-0.68},{"s":"620nm","t":0.75,"v":-0.9},{"s":"620nm","t":1,"v":-0.86},{"s":"620nm","t":1.25,"v":-0.82},{"s":"620nm","t":1.5,"v":-0.8},{"s":"620nm","t":2,"v":-0.77},{"s":"620nm","t":2.5,"v":-0.7},{"s":"620nm","t":3,"v":-0.68},{"s":"620nm","t":3.5,"v":-0.67},{"s":"620nm","t":4,"v":-0.66},{"s":"620nm","t":4.5,"v":-0.655},{"s":"620nm","t":5,"v":-0.65},{"s":"620nm","t":6,"v":-0.6},{"s":"620nm","t":7,"v":-0.55},{"s":"620nm","t":8,"v":-0.51},{"s":"620nm","t":9,"v":-0.5},{"s":"620nm","t":10,"v":-0.49},{"s":"620nm","t":11,"v":-0.47},{"s":"620nm","t":12,"v":-0.46},{"s":"620nm","t":13,"v":-0.44},{"s":"620nm","t":14,"v":-0.42},{"s":"620nm","t":15,"v":-0.42},{"s":"620nm","t":16,"v":-0.42},{"s":"620nm","t":17,"v":-0.41},{"s":"620nm","t":18,"v":-0.39},{"s":"620nm","t":19,"v":-0.38},{"s":"620nm","t":20,"v":-0.37},{"s":"620nm","t":21,"v":-0.37},{"s":"620nm","t":22,"v":-0.37},{"s":"620nm","t":23,"v":-0.36},{"s":"620nm","t":24,"v":-0.35},{"s":"620nm","t":25,"v":-0.335},{"s":"620nm","t":26,"v":-0.32},{"s":"620nm","t":27,"v":-0.32},{"s":"620nm","t":28,"v":-0.32},{"s":"620nm","t":29,"v":-0.32},{"s":"620nm","t":30,"v":-0.32},{"s":"620nm","t":31,"v":-0.32},{"s":"620nm","t":32,"v":-0.32},{"s":"620nm","t":33,"v":-0.32},{"s":"620nm","t":34,"v":-0.31},{"s":"620nm","t":35,"v":-0.305},{"s":"620nm","t":36,"v":-0.3},{"s":"620nm","t":37,"v":-0.28},{"s":"620nm","t":38,"v":-0.26},{"s":"620nm","t":39,"v":-0.255},{"s":"620nm","t":40,"v":-0.25},{"s":"620nm","t":41,"v":-0.245},{"s":"620nm","t":42,"v":-0.24},{"s":"620nm","t":43,"v":-0.235},{"s":"620nm","t":44,"v":-0.23},{"s":"620nm","t":45,"v":-0.235},{"s":"620nm","t":46,"v":-0.24},{"s":"620nm","t":47,"v":-0.245},{"s":"620nm","t":48,"v":-0.25},{"s":"620nm","t":49,"v":-0.25},{"s":"620nm","t":50,"v":-0.25},
{"s":"650nm","t":-2,"v":0},{"s":"650nm","t":-1.5,"v":-0.01},{"s":"650nm","t":-1,"v":-0.01},{"s":"650nm","t":-0.5,"v":-0.03},{"s":"650nm","t":-0.25,"v":-0.1},{"s":"650nm","t":0,"v":-0.3},{"s":"650nm","t":0.25,"v":-0.55},{"s":"650nm","t":0.5,"v":-0.8},{"s":"650nm","t":0.75,"v":-0.95},{"s":"650nm","t":1,"v":-0.98},{"s":"650nm","t":1.25,"v":-0.94},{"s":"650nm","t":1.5,"v":-0.91},{"s":"650nm","t":2,"v":-0.88},{"s":"650nm","t":2.5,"v":-0.86},{"s":"650nm","t":3,"v":-0.84},{"s":"650nm","t":3.5,"v":-0.83},{"s":"650nm","t":4,"v":-0.81},{"s":"650nm","t":4.5,"v":-0.79},{"s":"650nm","t":5,"v":-0.77},{"s":"650nm","t":6,"v":-0.72},{"s":"650nm","t":7,"v":-0.67},{"s":"650nm","t":8,"v":-0.7},{"s":"650nm","t":9,"v":-0.72},{"s":"650nm","t":10,"v":-0.67},{"s":"650nm","t":11,"v":-0.65},{"s":"650nm","t":12,"v":-0.63},{"s":"650nm","t":13,"v":-0.65},{"s":"650nm","t":14,"v":-0.67},{"s":"650nm","t":15,"v":-0.66},{"s":"650nm","t":16,"v":-0.65},{"s":"650nm","t":17,"v":-0.64},{"s":"650nm","t":18,"v":-0.63},{"s":"650nm","t":19,"v":-0.59},{"s":"650nm","t":20,"v":-0.585},{"s":"650nm","t":21,"v":-0.58},{"s":"650nm","t":22,"v":-0.585},{"s":"650nm","t":23,"v":-0.59},{"s":"650nm","t":24,"v":-0.585},{"s":"650nm","t":25,"v":-0.58},{"s":"650nm","t":26,"v":-0.57},{"s":"650nm","t":27,"v":-0.56},{"s":"650nm","t":28,"v":-0.55},{"s":"650nm","t":29,"v":-0.53},{"s":"650nm","t":30,"v":-0.52},{"s":"650nm","t":31,"v":-0.51},{"s":"650nm","t":32,"v":-0.5},{"s":"650nm","t":33,"v":-0.49},{"s":"650nm","t":34,"v":-0.495},{"s":"650nm","t":35,"v":-0.5},{"s":"650nm","t":36,"v":-0.505},{"s":"650nm","t":37,"v":-0.51},{"s":"650nm","t":38,"v":-0.49},{"s":"650nm","t":39,"v":-0.47},{"s":"650nm","t":40,"v":-0.465},{"s":"650nm","t":41,"v":-0.46},{"s":"650nm","t":42,"v":-0.45},{"s":"650nm","t":43,"v":-0.44},{"s":"650nm","t":44,"v":-0.44},{"s":"650nm","t":45,"v":-0.44},{"s":"650nm","t":46,"v":-0.435},{"s":"650nm","t":47,"v":-0.43},{"s":"650nm","t":48,"v":-0.425},{"s":"650nm","t":49,"v":-0.42},{"s":"650nm","t":50,"v":-0.42},
{"s":"630nm","t":-2,"v":0.01},{"s":"630nm","t":-1.5,"v":0},{"s":"630nm","t":-1,"v":-0.01},{"s":"630nm","t":-0.5,"v":-0.02},{"s":"630nm","t":-0.25,"v":-0.05},{"s":"630nm","t":0,"v":-0.18},{"s":"630nm","t":0.25,"v":-0.4},{"s":"630nm","t":0.5,"v":-0.65},{"s":"630nm","t":0.75,"v":-0.92},{"s":"630nm","t":1,"v":-0.9},{"s":"630nm","t":1.25,"v":-0.85},{"s":"630nm","t":1.5,"v":-0.78},{"s":"630nm","t":2,"v":-0.7},{"s":"630nm","t":2.5,"v":-0.63},{"s":"630nm","t":3,"v":-0.62},{"s":"630nm","t":3.5,"v":-0.6},{"s":"630nm","t":4,"v":-0.59},{"s":"630nm","t":4.5,"v":-0.58},{"s":"630nm","t":5,"v":-0.58},{"s":"630nm","t":6,"v":-0.57},{"s":"630nm","t":7,"v":-0.53},{"s":"630nm","t":8,"v":-0.46},{"s":"630nm","t":9,"v":-0.46},{"s":"630nm","t":10,"v":-0.44},{"s":"630nm","t":11,"v":-0.42},{"s":"630nm","t":12,"v":-0.39},{"s":"630nm","t":13,"v":-0.36},{"s":"630nm","t":14,"v":-0.38},{"s":"630nm","t":15,"v":-0.36},{"s":"630nm","t":16,"v":-0.38},{"s":"630nm","t":17,"v":-0.41},{"s":"630nm","t":18,"v":-0.33},{"s":"630nm","t":19,"v":-0.32},{"s":"630nm","t":20,"v":-0.31},{"s":"630nm","t":21,"v":-0.31},{"s":"630nm","t":22,"v":-0.32},{"s":"630nm","t":23,"v":-0.33},{"s":"630nm","t":24,"v":-0.3},{"s":"630nm","t":25,"v":-0.28},{"s":"630nm","t":26,"v":-0.27},{"s":"630nm","t":27,"v":-0.24},{"s":"630nm","t":28,"v":-0.25},{"s":"630nm","t":29,"v":-0.25},{"s":"630nm","t":30,"v":-0.27},{"s":"630nm","t":31,"v":-0.28},{"s":"630nm","t":32,"v":-0.26},{"s":"630nm","t":33,"v":-0.24},{"s":"630nm","t":34,"v":-0.21},{"s":"630nm","t":35,"v":-0.19},{"s":"630nm","t":36,"v":-0.2},{"s":"630nm","t":37,"v":-0.2},{"s":"630nm","t":38,"v":-0.21},{"s":"630nm","t":39,"v":-0.22},{"s":"630nm","t":40,"v":-0.2},{"s":"630nm","t":41,"v":-0.18},{"s":"630nm","t":42,"v":-0.17},{"s":"630nm","t":43,"v":-0.17},{"s":"630nm","t":44,"v":-0.18},{"s":"630nm","t":45,"v":-0.18},{"s":"630nm","t":46,"v":-0.18},{"s":"630nm","t":47,"v":-0.18},{"s":"630nm","t":48,"v":-0.175},{"s":"630nm","t":49,"v":-0.17},{"s":"630nm","t":50,"v":-0.17},
{"s":"640nm","t":-2,"v":0},{"s":"640nm","t":-1.5,"v":0},{"s":"640nm","t":-1,"v":-0.02},{"s":"640nm","t":-0.5,"v":-0.03},{"s":"640nm","t":-0.25,"v":-0.1},{"s":"640nm","t":0,"v":-0.32},{"s":"640nm","t":0.25,"v":-0.6},{"s":"640nm","t":0.5,"v":-0.82},{"s":"640nm","t":0.75,"v":-0.95},{"s":"640nm","t":1,"v":-1.0},{"s":"640nm","t":1.25,"v":-0.92},{"s":"640nm","t":1.5,"v":-0.86},{"s":"640nm","t":2,"v":-0.83},{"s":"640nm","t":2.5,"v":-0.81},{"s":"640nm","t":3,"v":-0.8},{"s":"640nm","t":3.5,"v":-0.79},{"s":"640nm","t":4,"v":-0.79},{"s":"640nm","t":4.5,"v":-0.81},{"s":"640nm","t":5,"v":-0.84},{"s":"640nm","t":6,"v":-0.77},{"s":"640nm","t":7,"v":-0.73},{"s":"640nm","t":8,"v":-0.72},{"s":"640nm","t":9,"v":-0.7},{"s":"640nm","t":10,"v":-0.67},{"s":"640nm","t":11,"v":-0.67},{"s":"640nm","t":12,"v":-0.67},{"s":"640nm","t":13,"v":-0.66},{"s":"640nm","t":14,"v":-0.64},{"s":"640nm","t":15,"v":-0.65},{"s":"640nm","t":16,"v":-0.65},{"s":"640nm","t":17,"v":-0.62},{"s":"640nm","t":18,"v":-0.58},{"s":"640nm","t":19,"v":-0.57},{"s":"640nm","t":20,"v":-0.56},{"s":"640nm","t":21,"v":-0.56},{"s":"640nm","t":22,"v":-0.56},{"s":"640nm","t":23,"v":-0.54},{"s":"640nm","t":24,"v":-0.51},{"s":"640nm","t":25,"v":-0.51},{"s":"640nm","t":26,"v":-0.51},{"s":"640nm","t":27,"v":-0.505},{"s":"640nm","t":28,"v":-0.5},{"s":"640nm","t":29,"v":-0.49},{"s":"640nm","t":30,"v":-0.47},{"s":"640nm","t":31,"v":-0.465},{"s":"640nm","t":32,"v":-0.46},{"s":"640nm","t":33,"v":-0.47},{"s":"640nm","t":34,"v":-0.49},{"s":"640nm","t":35,"v":-0.48},{"s":"640nm","t":36,"v":-0.47},{"s":"640nm","t":37,"v":-0.46},{"s":"640nm","t":38,"v":-0.43},{"s":"640nm","t":39,"v":-0.41},{"s":"640nm","t":40,"v":-0.39},{"s":"640nm","t":41,"v":-0.39},{"s":"640nm","t":42,"v":-0.39},{"s":"640nm","t":43,"v":-0.4},{"s":"640nm","t":44,"v":-0.42},{"s":"640nm","t":45,"v":-0.42},{"s":"640nm","t":46,"v":-0.42},{"s":"640nm","t":47,"v":-0.41},{"s":"640nm","t":48,"v":-0.4},{"s":"640nm","t":49,"v":-0.39},{"s":"640nm","t":50,"v":-0.39},
{"s":"660nm","t":-2,"v":0.02},{"s":"660nm","t":-1.5,"v":-0.1},{"s":"660nm","t":-1,"v":-0.2},{"s":"660nm","t":-0.5,"v":-0.44},{"s":"660nm","t":-0.25,"v":-0.55},{"s":"660nm","t":0,"v":-0.67},{"s":"660nm","t":0.25,"v":-0.78},{"s":"660nm","t":0.5,"v":-0.9},{"s":"660nm","t":0.75,"v":-0.96},{"s":"660nm","t":1,"v":-1.0},{"s":"660nm","t":1.25,"v":-0.98},{"s":"660nm","t":1.5,"v":-0.96},{"s":"660nm","t":2,"v":-0.96},{"s":"660nm","t":2.5,"v":-0.97},{"s":"660nm","t":3,"v":-0.975},{"s":"660nm","t":3.5,"v":-0.99},{"s":"660nm","t":4,"v":-1.0},{"s":"660nm","t":4.5,"v":-0.995},{"s":"660nm","t":5,"v":-0.99},{"s":"660nm","t":6,"v":-0.985},{"s":"660nm","t":7,"v":-0.98},{"s":"660nm","t":8,"v":-0.975},{"s":"660nm","t":9,"v":-0.975},{"s":"660nm","t":10,"v":-0.98},{"s":"660nm","t":11,"v":-0.97},{"s":"660nm","t":12,"v":-0.96},{"s":"660nm","t":13,"v":-0.95},{"s":"660nm","t":14,"v":-0.943},{"s":"660nm","t":15,"v":-0.94},{"s":"660nm","t":16,"v":-0.937},{"s":"660nm","t":17,"v":-0.935},{"s":"660nm","t":18,"v":-0.933},{"s":"660nm","t":19,"v":-0.93},{"s":"660nm","t":20,"v":-0.925},{"s":"660nm","t":21,"v":-0.918},{"s":"660nm","t":22,"v":-0.912},{"s":"660nm","t":23,"v":-0.905},{"s":"660nm","t":24,"v":-0.898},{"s":"660nm","t":25,"v":-0.89},{"s":"660nm","t":26,"v":-0.883},{"s":"660nm","t":27,"v":-0.876},{"s":"660nm","t":28,"v":-0.869},{"s":"660nm","t":29,"v":-0.862},{"s":"660nm","t":30,"v":-0.855},{"s":"660nm","t":31,"v":-0.848},{"s":"660nm","t":32,"v":-0.841},{"s":"660nm","t":33,"v":-0.834},{"s":"660nm","t":34,"v":-0.827},{"s":"660nm","t":35,"v":-0.82},{"s":"660nm","t":36,"v":-0.813},{"s":"660nm","t":37,"v":-0.806},{"s":"660nm","t":38,"v":-0.8},{"s":"660nm","t":39,"v":-0.793},{"s":"660nm","t":40,"v":-0.787},{"s":"660nm","t":41,"v":-0.781},{"s":"660nm","t":42,"v":-0.775},{"s":"660nm","t":43,"v":-0.77},{"s":"660nm","t":44,"v":-0.765},{"s":"660nm","t":45,"v":-0.76},{"s":"660nm","t":46,"v":-0.755},{"s":"660nm","t":47,"v":-0.75},{"s":"660nm","t":48,"v":-0.745},{"s":"660nm","t":49,"v":-0.74},{"s":"660nm","t":50,"v":-0.735},
{"s":"670nm","t":-2,"v":0.01},{"s":"670nm","t":-1.5,"v":0},{"s":"670nm","t":-1,"v":0.01},{"s":"670nm","t":-0.5,"v":0.02},{"s":"670nm","t":-0.25,"v":0.05},{"s":"670nm","t":0,"v":0.15},{"s":"670nm","t":0.25,"v":0.32},{"s":"670nm","t":0.5,"v":0.55},{"s":"670nm","t":0.75,"v":0.75},{"s":"670nm","t":1,"v":0.92},{"s":"670nm","t":1.25,"v":0.98},{"s":"670nm","t":1.5,"v":0.9},{"s":"670nm","t":2,"v":0.73},{"s":"670nm","t":2.5,"v":0.5},{"s":"670nm","t":3,"v":0.5},{"s":"670nm","t":3.5,"v":0.42},{"s":"670nm","t":4,"v":0.3},{"s":"670nm","t":4.5,"v":0.27},{"s":"670nm","t":5,"v":0.23},{"s":"670nm","t":6,"v":0.17},{"s":"670nm","t":7,"v":0.11},{"s":"670nm","t":8,"v":0.04},{"s":"670nm","t":9,"v":-0.06},{"s":"670nm","t":10,"v":-0.16},{"s":"670nm","t":11,"v":-0.22},{"s":"670nm","t":12,"v":-0.275},{"s":"670nm","t":13,"v":-0.31},{"s":"670nm","t":14,"v":-0.345},{"s":"670nm","t":15,"v":-0.37},{"s":"670nm","t":16,"v":-0.39},{"s":"670nm","t":17,"v":-0.41},{"s":"670nm","t":18,"v":-0.43},{"s":"670nm","t":19,"v":-0.45},{"s":"670nm","t":20,"v":-0.47},{"s":"670nm","t":21,"v":-0.485},{"s":"670nm","t":22,"v":-0.5},{"s":"670nm","t":23,"v":-0.52},{"s":"670nm","t":24,"v":-0.535},{"s":"670nm","t":25,"v":-0.55},{"s":"670nm","t":26,"v":-0.57},{"s":"670nm","t":27,"v":-0.58},{"s":"670nm","t":28,"v":-0.595},{"s":"670nm","t":29,"v":-0.605},{"s":"670nm","t":30,"v":-0.615},{"s":"670nm","t":31,"v":-0.625},{"s":"670nm","t":32,"v":-0.637},{"s":"670nm","t":33,"v":-0.648},{"s":"670nm","t":34,"v":-0.66},{"s":"670nm","t":35,"v":-0.672},{"s":"670nm","t":36,"v":-0.684},{"s":"670nm","t":37,"v":-0.695},{"s":"670nm","t":38,"v":-0.705},{"s":"670nm","t":39,"v":-0.712},{"s":"670nm","t":40,"v":-0.717},{"s":"670nm","t":41,"v":-0.72},{"s":"670nm","t":42,"v":-0.723},{"s":"670nm","t":43,"v":-0.725},{"s":"670nm","t":44,"v":-0.727},{"s":"670nm","t":45,"v":-0.729},{"s":"670nm","t":46,"v":-0.73},{"s":"670nm","t":47,"v":-0.73},{"s":"670nm","t":48,"v":-0.731},{"s":"670nm","t":49,"v":-0.732},{"s":"670nm","t":50,"v":-0.732},
{"s":"680nm","t":-2,"v":0.03},{"s":"680nm","t":-1.5,"v":0.02},{"s":"680nm","t":-1,"v":0.02},{"s":"680nm","t":-0.5,"v":0.03},{"s":"680nm","t":-0.25,"v":0.05},{"s":"680nm","t":0,"v":0.09},{"s":"680nm","t":0.25,"v":0.2},{"s":"680nm","t":0.5,"v":0.45},{"s":"680nm","t":0.75,"v":0.65},{"s":"680nm","t":1,"v":0.85},{"s":"680nm","t":1.25,"v":0.97},{"s":"680nm","t":1.5,"v":1.0},{"s":"680nm","t":2,"v":0.9},{"s":"680nm","t":2.5,"v":0.79},{"s":"680nm","t":3,"v":0.76},{"s":"680nm","t":3.5,"v":0.73},{"s":"680nm","t":4,"v":0.71},{"s":"680nm","t":4.5,"v":0.66},{"s":"680nm","t":5,"v":0.6},{"s":"680nm","t":6,"v":0.54},{"s":"680nm","t":7,"v":0.47},{"s":"680nm","t":8,"v":0.44},{"s":"680nm","t":9,"v":0.4},{"s":"680nm","t":10,"v":0.355},{"s":"680nm","t":11,"v":0.315},{"s":"680nm","t":12,"v":0.27},{"s":"680nm","t":13,"v":0.23},{"s":"680nm","t":14,"v":0.195},{"s":"680nm","t":15,"v":0.16},{"s":"680nm","t":16,"v":0.125},{"s":"680nm","t":17,"v":0.095},{"s":"680nm","t":18,"v":0.07},{"s":"680nm","t":19,"v":0.045},{"s":"680nm","t":20,"v":0.02},{"s":"680nm","t":21,"v":0},{"s":"680nm","t":22,"v":-0.02},{"s":"680nm","t":23,"v":-0.04},{"s":"680nm","t":24,"v":-0.06},{"s":"680nm","t":25,"v":-0.08},{"s":"680nm","t":26,"v":-0.1},{"s":"680nm","t":27,"v":-0.112},{"s":"680nm","t":28,"v":-0.124},{"s":"680nm","t":29,"v":-0.135},{"s":"680nm","t":30,"v":-0.146},{"s":"680nm","t":31,"v":-0.157},{"s":"680nm","t":32,"v":-0.165},{"s":"680nm","t":33,"v":-0.172},{"s":"680nm","t":34,"v":-0.179},{"s":"680nm","t":35,"v":-0.186},{"s":"680nm","t":36,"v":-0.193},{"s":"680nm","t":37,"v":-0.198},{"s":"680nm","t":38,"v":-0.203},{"s":"680nm","t":39,"v":-0.207},{"s":"680nm","t":40,"v":-0.211},{"s":"680nm","t":41,"v":-0.215},{"s":"680nm","t":42,"v":-0.218},{"s":"680nm","t":43,"v":-0.221},{"s":"680nm","t":44,"v":-0.223},{"s":"680nm","t":45,"v":-0.225},{"s":"680nm","t":46,"v":-0.227},{"s":"680nm","t":47,"v":-0.228},{"s":"680nm","t":48,"v":-0.229},{"s":"680nm","t":49,"v":-0.23},{"s":"680nm","t":50,"v":-0.23}
]
},
"layer":[
{"layer":[
 {"data":{"values":[{}]},"mark":{"type":"rule","color":"black","strokeWidth":2},
  "encoding":{"y":{"datum":0,"type":"quantitative"}}},
 {"data":{"name":"main"},
  "mark":{"type":"point","filled":true,"size":34,"opacity":1,"strokeWidth":0},
  "encoding":{
   "x":{"field":"t","type":"quantitative","scale":{"domain":[-4.4,400],"nice":false,"zero":false},
    "axis":{"values":[0,50,100,150,200,250,300,350,400],"labelExpr":"datum.value % 100 == 0 ? format(datum.value,'d') : ''",
     "tickSize":{"condition":{"test":"datum.value % 100 != 0","value":6},"value":12},
     "tickWidth":2,"tickColor":"black","domainColor":"black","domainWidth":2,"grid":false,
     "labelFont":"Liberation Sans","labelFontSize":23,"labelColor":"black","labelPadding":9,"labelFlush":false,"labelOverlap":false,
     "title":"Delay (ps)","titleFont":"Liberation Sans","titleFontSize":30,"titleFontWeight":"normal","titleColor":"black",
     "titleX":398,"titleY":103,"titleBaseline":"alphabetic"}},
   "y":{"field":"v","type":"quantitative","scale":{"domain":[-1.1,1.3],"nice":false,"zero":false},
    "axis":{"values":[-1,-0.9,-0.8,-0.7,-0.6,-0.5,-0.4,-0.3,-0.2,-0.1,0,0.1,0.2,0.3,0.4,0.5,0.6,0.7,0.8,0.9,1,1.1,1.2],
     "labelExpr":"(abs(round(datum.value*10)) % 2 == 1) ? '' : ((datum.value < -0.001) ? '-' : '') + format(abs(datum.value), '.1f')",
     "tickSize":{"condition":{"test":"abs(round(datum.value*10)) % 2 == 1","value":7},"value":12},
     "tickWidth":2,"tickColor":"black","domainColor":"black","domainWidth":2,"grid":false,
     "labelFont":"Liberation Sans","labelFontSize":25,"labelColor":"black","labelPadding":9,"labelFlush":false,"labelOverlap":false,
     "title":"ΔA(arb.u)","titleFont":"Liberation Sans","titleFontSize":30,"titleFontWeight":"normal","titleColor":"black",
     "titleX":-114,"titleY":331,"titleAlign":"center","titleBaseline":"alphabetic","titleAngle":-90}},
   "color":{"field":"s","type":"nominal",
    "scale":{"domain":["600nm","610nm","620nm","650nm","630nm","640nm","660nm","670nm","680nm"],
     "range":["#000000","#FF0000","#00EE00","#FF00FF","#0000FF","#00FFFF","#E2553A","#FFFF00","#808000"]},
    "legend":{"title":null,"orient":"none","legendX":594,"legendY":9,"labelFont":"Liberation Sans","labelFontSize":31,"labelColor":"black","labelOffset":28,"symbolSize":28,"rowPadding":6.4,"padding":0,"symbolStrokeWidth":0}},
   "shape":{"field":"s","type":"nominal",
    "scale":{"domain":["600nm","610nm","620nm","650nm","630nm","640nm","660nm","670nm","680nm"],
     "range":["square","circle","triangle-up","triangle-left","triangle-down","diamond","square","triangle-right","circle"]},
    "legend":{"title":null,"orient":"none","legendX":594,"legendY":9,"labelFont":"Liberation Sans","labelFontSize":31,"labelColor":"black","labelOffset":28,"symbolSize":28,"rowPadding":6.4,"padding":0,"symbolStrokeWidth":0}}
  }}
]},
{"layer":[
 {"data":{"values":[{}]},"mark":{"type":"rect","filled":false,"stroke":"#222222","strokeWidth":1.5},
  "encoding":{"x":{"datum":-2.1,"type":"quantitative"},"x2":{"datum":50},"y":{"datum":-1.1,"type":"quantitative"},"y2":{"datum":1.1}}},
 {"data":{"values":[{}]},"mark":{"type":"rule","color":"#222222","strokeWidth":1.5},
  "encoding":{"x":{"datum":-2.1,"type":"quantitative"},"x2":{"datum":50},"y":{"datum":0,"type":"quantitative"}}},
 {"data":{"name":"inset"},
  "mark":{"type":"point","filled":true,"size":14,"opacity":1,"strokeWidth":0},
  "encoding":{
   "x":{"field":"t","type":"quantitative","scale":{"domain":[-2.1,50],"range":[148,492],"nice":false,"zero":false},
    "axis":{"orient":"bottom","offset":-321,"values":[0,5,10,15,20,25,30,35,40,45,50],"labelExpr":"datum.value % 10 == 0 ? format(datum.value,'d') : ''",
     "tickSize":{"condition":{"test":"datum.value % 10 != 0","value":3},"value":5},
     "tickWidth":1,"tickColor":"#222222","domainColor":"#222222","domainWidth":1.5,"grid":false,
     "labelFont":"Liberation Sans","labelFontSize":10,"labelFontWeight":"bold","labelColor":"#222222","labelPadding":2,"labelFlush":false,"labelOverlap":false,"title":null}},
   "y":{"field":"v","type":"quantitative","scale":{"domain":[-1.1,1.1],"range":[319,5],"nice":false,"zero":false},
    "axis":{"orient":"left","offset":-148,"values":[-1,-0.9,-0.8,-0.7,-0.6,-0.5,-0.4,-0.3,-0.2,-0.1,0,0.1,0.2,0.3,0.4,0.5,0.6,0.7,0.8,0.9,1],
     "labelExpr":"(abs(round(datum.value*10)) % 2 == 1) ? '' : ((datum.value < -0.001) ? '-' : '') + format(abs(datum.value), '.1f')",
     "tickSize":{"condition":{"test":"abs(round(datum.value*10)) % 2 == 1","value":3},"value":5},
     "tickWidth":1,"tickColor":"#222222","domainColor":"#222222","domainWidth":1.5,"grid":false,
     "labelFont":"Liberation Sans","labelFontSize":8.5,"labelColor":"#555555","labelPadding":3,"labelFlush":false,"labelOverlap":false,"title":null}},
   "color":{"field":"s","type":"nominal",
    "scale":{"domain":["600nm","610nm","620nm","650nm","630nm","640nm","660nm","670nm","680nm"],
     "range":["#000000","#FF0000","#00EE00","#FF00FF","#0000FF","#00FFFF","#E2553A","#FFFF00","#808000"]},"legend":null},
   "shape":{"field":"s","type":"nominal",
    "scale":{"domain":["600nm","610nm","620nm","650nm","630nm","640nm","660nm","670nm","680nm"],
     "range":["square","circle","triangle-up","triangle-left","triangle-down","diamond","square","triangle-right","circle"]},"legend":null}
  }}
]}
],
"resolve":{"scale":{"x":"independent","y":"independent"}}
}
